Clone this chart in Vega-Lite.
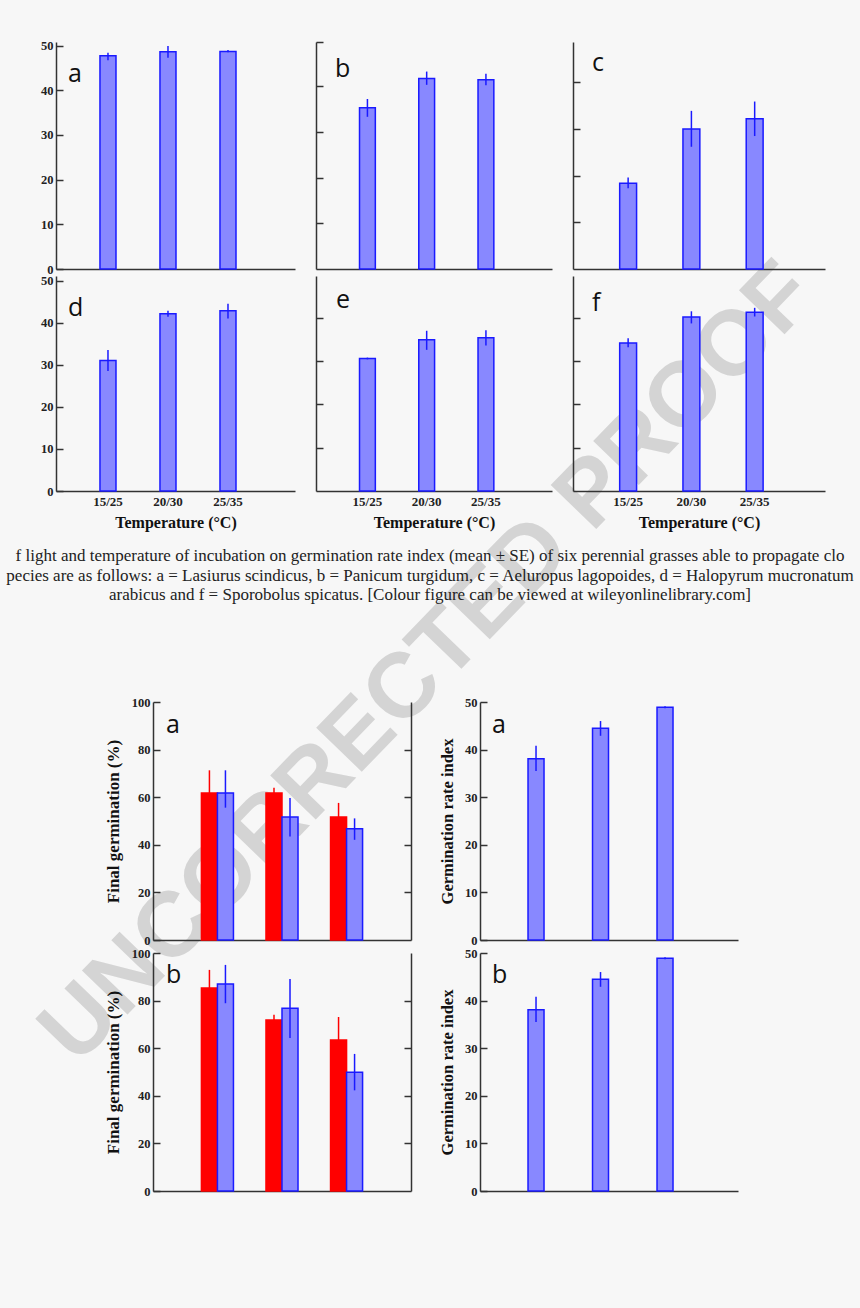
{
  "$schema": "https://vega.github.io/schema/vega-lite/v6.json",
  "background": "#f7f7f7",
  "padding": {"left": 0, "top": 39, "right": 0, "bottom": 0},
  "autosize": {"type": "pad"},
  "config": {
    "view": {"stroke": null},
    "title": {"anchor": "start", "frame": "group", "orient": "top", "offset": 0, "baseline": "alphabetic", "align": "left", "font": "Open Sans", "fontSize": 25, "fontWeight": "normal", "color": "#111"},
    "axis": {"grid": false, "domainColor": "#333", "domainWidth": 1.5, "tickColor": "#333", "tickWidth": 1.5, "labelFont": "Liberation Serif", "labelFontWeight": "bold", "labelFontSize": 12.5, "labelColor": "#222", "titleFont": "Liberation Serif", "titleFontWeight": "bold", "titleFontSize": 16, "titleColor": "#111", "labelOverlap": false}
  },
  "datasets": {
    "top": [
      {"p": "a", "t": "15/25", "m": 47.7, "lo": 46.7, "hi": 48.4},
      {"p": "a", "t": "20/30", "m": 48.6, "lo": 47.3, "hi": 49.9},
      {"p": "a", "t": "25/35", "m": 48.7, "lo": 48.5, "hi": 49.0},
      {"p": "b", "t": "15/25", "m": 35.3, "lo": 33.3, "hi": 37.2},
      {"p": "b", "t": "20/30", "m": 41.7, "lo": 40.3, "hi": 43.2},
      {"p": "b", "t": "25/35", "m": 41.4, "lo": 40.2, "hi": 42.7},
      {"p": "c", "t": "15/25", "m": 18.4, "lo": 17.3, "hi": 19.6},
      {"p": "c", "t": "20/30", "m": 30.0, "lo": 26.2, "hi": 33.9},
      {"p": "c", "t": "25/35", "m": 32.2, "lo": 28.5, "hi": 35.9},
      {"p": "d", "t": "15/25", "m": 31.0, "lo": 28.5, "hi": 33.5},
      {"p": "d", "t": "20/30", "m": 42.1, "lo": 41.4, "hi": 42.8},
      {"p": "d", "t": "25/35", "m": 42.8, "lo": 41.0, "hi": 44.5},
      {"p": "e", "t": "15/25", "m": 30.6, "lo": 30.4, "hi": 30.8},
      {"p": "e", "t": "20/30", "m": 34.9, "lo": 32.6, "hi": 37.0},
      {"p": "e", "t": "25/35", "m": 35.4, "lo": 33.6, "hi": 37.1},
      {"p": "f", "t": "15/25", "m": 34.2, "lo": 33.2, "hi": 35.3},
      {"p": "f", "t": "20/30", "m": 40.2, "lo": 38.7, "hi": 41.5},
      {"p": "f", "t": "25/35", "m": 41.3, "lo": 40.3, "hi": 42.3}
    ],
    "germ": [
      {"p": "a", "t": "15/25", "g": "Light", "m": 61.8, "lo": 52.3, "hi": 71.3},
      {"p": "a", "t": "15/25", "g": "Dark", "m": 61.8, "lo": 55.6, "hi": 71.3},
      {"p": "a", "t": "20/30", "g": "Light", "m": 61.8, "lo": 59.6, "hi": 64.0},
      {"p": "a", "t": "20/30", "g": "Dark", "m": 51.7, "lo": 43.5, "hi": 59.7},
      {"p": "a", "t": "25/35", "g": "Light", "m": 51.7, "lo": 45.8, "hi": 57.6},
      {"p": "a", "t": "25/35", "g": "Dark", "m": 46.7, "lo": 42.1, "hi": 51.1},
      {"p": "b", "t": "15/25", "g": "Light", "m": 85.3, "lo": 77.7, "hi": 92.9},
      {"p": "b", "t": "15/25", "g": "Dark", "m": 87.0, "lo": 78.9, "hi": 95.0},
      {"p": "b", "t": "20/30", "g": "Light", "m": 71.8, "lo": 69.5, "hi": 74.1},
      {"p": "b", "t": "20/30", "g": "Dark", "m": 76.8, "lo": 64.3, "hi": 89.1},
      {"p": "b", "t": "25/35", "g": "Light", "m": 63.4, "lo": 53.7, "hi": 73.1},
      {"p": "b", "t": "25/35", "g": "Dark", "m": 49.9, "lo": 42.3, "hi": 57.6}
    ],
    "rate": [
      {"p": "a", "t": "15/25", "m": 38.1, "lo": 35.5, "hi": 40.8},
      {"p": "a", "t": "20/30", "m": 44.5, "lo": 42.9, "hi": 46.0},
      {"p": "a", "t": "25/35", "m": 48.9, "lo": 48.7, "hi": 49.1},
      {"p": "b", "t": "15/25", "m": 38.1, "lo": 35.5, "hi": 40.8},
      {"p": "b", "t": "20/30", "m": 44.5, "lo": 42.9, "hi": 46.0},
      {"p": "b", "t": "25/35", "m": 48.9, "lo": 48.7, "hi": 49.1}
    ],
    "caption": [
      {"line": 1, "text": "f light and temperature of incubation on germination rate index (mean ± SE) of six perennial grasses able to propagate clo"},
      {"line": 2, "text": "pecies are as follows: a = Lasiurus scindicus, b = Panicum turgidum, c = Aeluropus lagopoides, d = Halopyrum mucronatum"},
      {"line": 3, "text": "arabicus and f = Sporobolus spicatus. [Colour figure can be viewed at wileyonlinelibrary.com]"}
    ],
    "mark": [{"w": "UNCORRECTED PROOF"}]
  },
  "spacing": 660,
  "bounds": "flush",
  "vconcat": [
    {
      "columns": 5,
      "spacing": {"row": 7, "column": 21},
      "bounds": "flush",
      "concat": [
        {"width": 35, "height": 227, "data": {"name": "mark"},
         "mark": {"type": "text", "angle": -46, "align": "center", "baseline": "middle", "font": "Liberation Sans", "fontSize": 92, "fontWeight": "bold", "color": "#d4d4d4"},
         "encoding": {
           "text": {"field": "w"},
           "x": {"datum": 12.229, "type": "quantitative", "scale": {"domain": [0, 1], "nice": false, "zero": false}, "axis": null},
           "y": {"datum": 2.7357, "type": "quantitative", "scale": {"domain": [0, 1], "nice": false, "zero": false, "reverse": true}, "axis": null}
         }},
        {"width": 239, "height": 227, "title": {"text": "a", "dx": 12, "dy": 51.5},
         "data": {"name": "top"}, "transform": [{"filter": "datum.p === 'a'"}],
         "encoding": {"x": {"field": "t", "type": "nominal", "sort": null, "scale": {"paddingInner": 0.733, "paddingOuter": 0.858, "align": 0.427}, "axis": {"labels": false, "ticks": false, "title": null}}},
         "layer": [
           {"mark": {"type": "bar", "fill": "#8888ff", "stroke": "#1a1aff", "strokeWidth": 1.5}, "encoding": {"y": {"field": "m", "type": "quantitative", "scale": {"domain": [0, 50.8], "nice": false}, "axis": {"values": [0, 10, 20, 30, 40, 50], "tickSize": -7, "labelPadding": 10, "title": null}}}},
           {"mark": {"type": "rule", "stroke": "#1a1aff", "strokeWidth": 1.5}, "encoding": {"y": {"field": "lo", "type": "quantitative"}, "y2": {"field": "hi"}}}
         ]},
        {"width": 236, "height": 227, "title": {"text": "b", "dx": 19, "dy": 45.1},
         "data": {"name": "top"}, "transform": [{"filter": "datum.p === 'b'"}],
         "encoding": {"x": {"field": "t", "type": "nominal", "sort": null, "scale": {"paddingInner": 0.733, "paddingOuter": 0.858, "align": 0.428}, "axis": {"labels": false, "ticks": false, "title": null}}},
         "layer": [
           {"mark": {"type": "bar", "fill": "#8888ff", "stroke": "#1a1aff", "strokeWidth": 1.5}, "encoding": {"y": {"field": "m", "type": "quantitative", "scale": {"domain": [0, 49.67], "nice": false}, "axis": {"values": [10, 20, 30, 40, 49.67], "tickSize": -7, "labels": false, "title": null}}}},
           {"mark": {"type": "rule", "stroke": "#1a1aff", "strokeWidth": 1.5}, "encoding": {"y": {"field": "lo", "type": "quantitative"}, "y2": {"field": "hi"}}}
         ]},
        {"width": 252, "height": 227, "title": {"text": "c", "dx": 19, "dy": 38.2},
         "data": {"name": "top"}, "transform": [{"filter": "datum.p === 'c'"}],
         "encoding": {"x": {"field": "t", "type": "nominal", "sort": null, "scale": {"paddingInner": 0.733, "paddingOuter": 0.858, "align": 0.43}, "axis": {"labels": false, "ticks": false, "title": null}}},
         "layer": [
           {"mark": {"type": "bar", "fill": "#8888ff", "stroke": "#1a1aff", "strokeWidth": 1.5}, "encoding": {"y": {"field": "m", "type": "quantitative", "scale": {"domain": [0, 48.66], "nice": false}, "axis": {"values": [10, 20, 30, 40], "tickSize": -7, "labels": false, "title": null}}}},
           {"mark": {"type": "rule", "stroke": "#1a1aff", "strokeWidth": 1.5}, "encoding": {"y": {"field": "lo", "type": "quantitative"}, "y2": {"field": "hi"}}}
         ]},
        {"width": 14, "height": 227, "data": {"values": [{}]},
         "mark": {"type": "rect", "opacity": 0},
         "encoding": {
           "x": {"datum": 0, "type": "quantitative", "scale": {"domain": [0, 1], "nice": false}, "axis": null}, "x2": {"datum": 1},
           "y": {"datum": 0, "type": "quantitative", "scale": {"domain": [0, 1], "nice": false}, "axis": null}, "y2": {"datum": 1}
         }},

        {"width": 35, "height": 215, "data": {"name": "caption"},
         "mark": {"type": "text", "align": "center", "baseline": "alphabetic", "font": "Liberation Serif", "fontSize": 17, "color": "#222"},
         "encoding": {
           "text": {"field": "text"},
           "x": {"datum": 12.286, "type": "quantitative", "scale": {"domain": [0, 1], "nice": false, "zero": false}, "axis": null},
           "y": {"field": "line", "type": "quantitative", "scale": {"domain": [-13.615, -2.59], "nice": false, "zero": false, "reverse": true}, "axis": null}
         }},
        {"width": 239, "height": 215, "title": {"text": "d", "dx": 12, "dy": 50},
         "data": {"name": "top"}, "transform": [{"filter": "datum.p === 'd'"}],
         "encoding": {"x": {"field": "t", "type": "nominal", "sort": null, "scale": {"paddingInner": 0.733, "paddingOuter": 0.858, "align": 0.427}, "axis": {"ticks": false, "labelPadding": 4, "labelAngle": 0, "labelFontSize": 13, "title": "Temperature (°C)", "titlePadding": 6}}},
         "layer": [
           {"mark": {"type": "bar", "fill": "#8888ff", "stroke": "#1a1aff", "strokeWidth": 1.5}, "encoding": {"y": {"field": "m", "type": "quantitative", "scale": {"domain": [0, 51.07], "nice": false}, "axis": {"values": [0, 10, 20, 30, 40, 50], "tickSize": -7, "labelPadding": 10, "title": null}}}},
           {"mark": {"type": "rule", "stroke": "#1a1aff", "strokeWidth": 1.5}, "encoding": {"y": {"field": "lo", "type": "quantitative"}, "y2": {"field": "hi"}}}
         ]},
        {"width": 236, "height": 215, "title": {"text": "e", "dx": 20, "dy": 40.8},
         "data": {"name": "top"}, "transform": [{"filter": "datum.p === 'e'"}],
         "encoding": {"x": {"field": "t", "type": "nominal", "sort": null, "scale": {"paddingInner": 0.733, "paddingOuter": 0.858, "align": 0.428}, "axis": {"ticks": false, "labelPadding": 4, "labelAngle": 0, "labelFontSize": 13, "title": "Temperature (°C)", "titlePadding": 6}}},
         "layer": [
           {"mark": {"type": "bar", "fill": "#8888ff", "stroke": "#1a1aff", "strokeWidth": 1.5}, "encoding": {"y": {"field": "m", "type": "quantitative", "scale": {"domain": [0, 49.65], "nice": false}, "axis": {"values": [10, 20, 30, 40], "tickSize": -7, "labels": false, "title": null}}}},
           {"mark": {"type": "rule", "stroke": "#1a1aff", "strokeWidth": 1.5}, "encoding": {"y": {"field": "lo", "type": "quantitative"}, "y2": {"field": "hi"}}}
         ]},
        {"width": 252, "height": 215, "title": {"text": "f", "dx": 19, "dy": 44.2},
         "data": {"name": "top"}, "transform": [{"filter": "datum.p === 'f'"}],
         "encoding": {"x": {"field": "t", "type": "nominal", "sort": null, "scale": {"paddingInner": 0.733, "paddingOuter": 0.858, "align": 0.43}, "axis": {"ticks": false, "labelPadding": 4, "labelAngle": 0, "labelFontSize": 13, "title": "Temperature (°C)", "titlePadding": 6}}},
         "layer": [
           {"mark": {"type": "bar", "fill": "#8888ff", "stroke": "#1a1aff", "strokeWidth": 1.5}, "encoding": {"y": {"field": "m", "type": "quantitative", "scale": {"domain": [0, 49.65], "nice": false}, "axis": {"values": [10, 20, 30, 40], "tickSize": -7, "labels": false, "title": null}}}},
           {"mark": {"type": "rule", "stroke": "#1a1aff", "strokeWidth": 1.5}, "encoding": {"y": {"field": "lo", "type": "quantitative"}, "y2": {"field": "hi"}}}
         ]},
        {"width": 14, "height": 1, "data": {"values": []}, "mark": "point"}
      ]
    },
    {
      "columns": 3,
      "spacing": {"row": 13, "column": 69},
      "bounds": "flush",
      "concat": [
        {"width": 84, "height": 1, "data": {"values": []}, "mark": "point"},
        {"width": 258, "height": 238, "title": {"text": "a", "dx": 13, "dy": 45.5},
         "data": {"name": "germ"}, "transform": [{"filter": "datum.p === 'a'"}],
         "encoding": {
           "x": {"field": "t", "type": "nominal", "sort": null, "scale": {"paddingInner": 0.504, "paddingOuter": 0.75, "align": 0.5}, "axis": {"labels": false, "ticks": false, "title": null}},
           "xOffset": {"field": "g", "type": "nominal", "sort": null, "scale": {"domain": ["Light", "Dark"], "paddingInner": 0, "paddingOuter": 0}}
         },
         "layer": [
           {"mark": {"type": "bar", "strokeWidth": 1.5}, "encoding": {
             "y": {"field": "m", "type": "quantitative", "scale": {"domain": [0, 100], "nice": false}, "axis": {"values": [0, 20, 40, 60, 80, 100], "tickSize": -7, "labelPadding": 10, "title": "Final germination (%)", "titlePadding": 9, "titleFontSize": 17}},
             "fill": {"field": "g", "type": "nominal", "scale": {"domain": ["Light", "Dark"], "range": ["#ff0000", "#8888ff"]}, "legend": null},
             "stroke": {"field": "g", "type": "nominal", "scale": {"domain": ["Light", "Dark"], "range": ["#ff0000", "#1a1aff"]}, "legend": null}}},
           {"mark": {"type": "rule", "strokeWidth": 1.5}, "encoding": {
             "y": {"field": "lo", "type": "quantitative", "axis": {"orient": "right", "values": [20, 40, 60, 80], "tickSize": -7, "labels": false, "title": null}},
             "y2": {"field": "hi"},
             "stroke": {"field": "g", "type": "nominal", "legend": null}}}
         ],
         "resolve": {"axis": {"y": "independent"}}},
        {"width": 258, "height": 238, "title": {"text": "a", "dx": 12, "dy": 45.5},
         "data": {"name": "rate"}, "transform": [{"filter": "datum.p === 'a'"}],
         "encoding": {"x": {"field": "t", "type": "nominal", "sort": null, "scale": {"paddingInner": 0.752, "paddingOuter": 0.876, "align": 0.425}, "axis": {"labels": false, "ticks": false, "title": null}}},
         "layer": [
           {"mark": {"type": "bar", "fill": "#8888ff", "stroke": "#1a1aff", "strokeWidth": 1.5}, "encoding": {"y": {"field": "m", "type": "quantitative", "scale": {"domain": [0, 50], "nice": false}, "axis": {"values": [0, 10, 20, 30, 40, 50], "tickSize": -7, "labelPadding": 10, "title": "Germination rate index", "titlePadding": 9, "titleFontSize": 16.5}}}},
           {"mark": {"type": "rule", "stroke": "#1a1aff", "strokeWidth": 1.5}, "encoding": {"y": {"field": "lo", "type": "quantitative"}, "y2": {"field": "hi"}}}
         ]},

        {"width": 84, "height": 1, "data": {"values": []}, "mark": "point"},
        {"width": 258, "height": 238, "title": {"text": "b", "dx": 13, "dy": 45},
         "data": {"name": "germ"}, "transform": [{"filter": "datum.p === 'b'"}],
         "encoding": {
           "x": {"field": "t", "type": "nominal", "sort": null, "scale": {"paddingInner": 0.504, "paddingOuter": 0.75, "align": 0.5}, "axis": {"labels": false, "ticks": false, "title": null}},
           "xOffset": {"field": "g", "type": "nominal", "sort": null, "scale": {"domain": ["Light", "Dark"], "paddingInner": 0, "paddingOuter": 0}}
         },
         "layer": [
           {"mark": {"type": "bar", "strokeWidth": 1.5}, "encoding": {
             "y": {"field": "m", "type": "quantitative", "scale": {"domain": [0, 100], "nice": false}, "axis": {"values": [0, 20, 40, 60, 80, 100], "tickSize": -7, "labelPadding": 10, "title": "Final germination (%)", "titlePadding": 9, "titleFontSize": 17}},
             "fill": {"field": "g", "type": "nominal", "scale": {"domain": ["Light", "Dark"], "range": ["#ff0000", "#8888ff"]}, "legend": null},
             "stroke": {"field": "g", "type": "nominal", "scale": {"domain": ["Light", "Dark"], "range": ["#ff0000", "#1a1aff"]}, "legend": null}}},
           {"mark": {"type": "rule", "strokeWidth": 1.5}, "encoding": {
             "y": {"field": "lo", "type": "quantitative", "axis": {"orient": "right", "values": [20, 40, 60, 80], "tickSize": -7, "labels": false, "title": null}},
             "y2": {"field": "hi"},
             "stroke": {"field": "g", "type": "nominal", "legend": null}}}
         ],
         "resolve": {"axis": {"y": "independent"}}},
        {"width": 258, "height": 238, "title": {"text": "b", "dx": 12, "dy": 45},
         "data": {"name": "rate"}, "transform": [{"filter": "datum.p === 'b'"}],
         "encoding": {"x": {"field": "t", "type": "nominal", "sort": null, "scale": {"paddingInner": 0.752, "paddingOuter": 0.876, "align": 0.425}, "axis": {"labels": false, "ticks": false, "title": null}}},
         "layer": [
           {"mark": {"type": "bar", "fill": "#8888ff", "stroke": "#1a1aff", "strokeWidth": 1.5}, "encoding": {"y": {"field": "m", "type": "quantitative", "scale": {"domain": [0, 50], "nice": false}, "axis": {"values": [0, 10, 20, 30, 40, 50], "tickSize": -7, "labelPadding": 10, "title": "Germination rate index", "titlePadding": 9, "titleFontSize": 16.5}}}},
           {"mark": {"type": "rule", "stroke": "#1a1aff", "strokeWidth": 1.5}, "encoding": {"y": {"field": "lo", "type": "quantitative"}, "y2": {"field": "hi"}}}
         ]},

        {"width": 84, "height": 105, "data": {"values": [{}]},
         "mark": {"type": "rect", "opacity": 0},
         "encoding": {
           "x": {"datum": 0, "type": "quantitative", "scale": {"domain": [0, 1], "nice": false}, "axis": null}, "x2": {"datum": 1},
           "y": {"datum": 0, "type": "quantitative", "scale": {"domain": [0, 1], "nice": false}, "axis": null}, "y2": {"datum": 1}
         }}
      ]
    }
  ]
}
